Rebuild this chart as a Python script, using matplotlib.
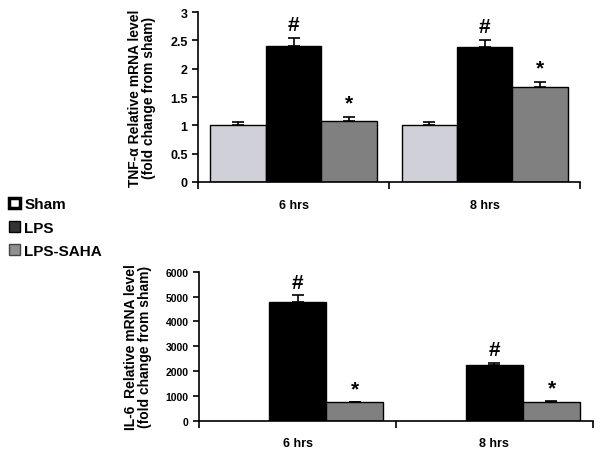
import matplotlib.pyplot as plt
from matplotlib.patches import Patch
import numpy as np

plt.rcParams['font.family'] = ['Liberation Sans', 'DejaVu Sans']
plt.rcParams['font.weight'] = 'bold'

groups = ["6 hrs", "8 hrs"]
series = ["Sham", "LPS", "LPS-SAHA"]
colors = ["#d0d0d8", "#000000", "#808080"]

tnf_vals = {"Sham": [1.0, 1.0], "LPS": [2.41, 2.38], "LPS-SAHA": [1.08, 1.68]}
tnf_err = {"Sham": [0.05, 0.05], "LPS": [0.13, 0.12], "LPS-SAHA": [0.06, 0.08]}
marks = {"LPS": "#", "LPS-SAHA": "*"}

il6_vals = {"Sham": [1.0, 1.0], "LPS": [4800, 2250], "LPS-SAHA": [750, 750]}
il6_err = {"Sham": [0, 0], "LPS": [250, 80], "LPS-SAHA": [20, 50]}

centers = np.array([0.5, 1.5])
w = 0.29


def draw(ax, vals, errs, ylim, yticks, ylabel, tick_fs, mark_off):
    for i, s in enumerate(series):
        x = centers + (i - 1) * w
        # bars too small to see (sham in IL-6) get no outline
        lw = 1.0 if max(vals[s]) > ylim[1] * 0.01 else 0
        ax.bar(x, vals[s], width=w, color=colors[i], edgecolor="black", linewidth=lw,
               yerr=[np.zeros(2), errs[s]], capsize=4 if lw else 0,
               error_kw=dict(ecolor="black", elinewidth=1.2, capthick=1.2))
        if s in marks:
            for xi, v, e in zip(x, vals[s], errs[s]):
                ax.text(xi, v + e + mark_off, marks[s], ha="center", va="bottom",
                        fontsize=15, fontweight="bold")
    ax.set_xlim(0, 2)
    ax.set_ylim(*ylim)
    ax.set_yticks(yticks)
    ax.set_yticklabels([f"{t:g}" for t in yticks], fontsize=tick_fs, fontweight="bold")
    ax.set_xticks([0, 1, 2])
    ax.set_xticklabels([])
    ax.set_xticks(centers, minor=True)
    ax.set_xticklabels(groups, minor=True, fontsize=9, fontweight="bold")
    ax.tick_params(axis="x", which="minor", length=0, pad=12)
    ax.tick_params(axis="x", which="major", length=5, width=1.2)
    ax.tick_params(axis="y", length=4, width=1.2)
    for sp in ["top", "right"]:
        ax.spines[sp].set_visible(False)
    for sp in ["left", "bottom"]:
        ax.spines[sp].set_linewidth(1.2)
    ax.set_ylabel(ylabel, fontsize=10, fontweight="bold", labelpad=10, linespacing=1.0)


fig = plt.figure(figsize=(6, 4.56), dpi=100)
ax1 = fig.add_axes([0.33, 0.599, 0.637, 0.372])
ax2 = fig.add_axes([0.332, 0.075, 0.656, 0.327])

draw(ax1, tnf_vals, tnf_err, (0, 3), [0, 0.5, 1, 1.5, 2, 2.5, 3],
     "TNF-α Relative mRNA level\n(fold change from sham)", 9, 0.08)
draw(ax2, il6_vals, il6_err, (0, 6000), [0, 1000, 2000, 3000, 4000, 5000, 6000],
     "IL-6  Relative mRNA level\n(fold change from sham)", 7.5, 150)

handles = [Patch(facecolor="white", edgecolor="black", linewidth=2.5),
           Patch(facecolor="#333333", edgecolor="black", linewidth=1),
           Patch(facecolor="#909090", edgecolor="#444444", linewidth=1)]
fig.legend(handles, series, loc="upper left", bbox_to_anchor=(0.0, 0.585), frameon=False,
           prop=dict(size=11, weight="bold"), handlelength=0.7, handleheight=0.7,
           handletextpad=0.3, labelspacing=0.6, borderaxespad=0.2)

fig.savefig("out.png", dpi=100)
